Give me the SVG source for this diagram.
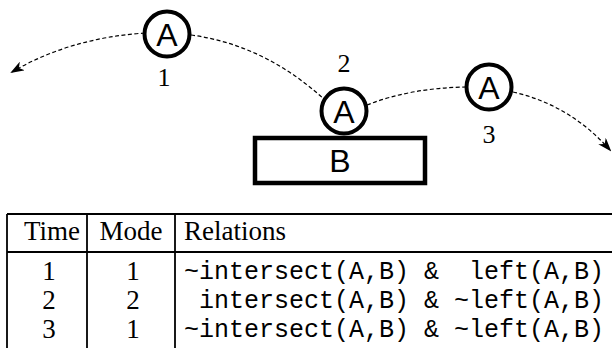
<svg xmlns="http://www.w3.org/2000/svg" width="612" height="348" viewBox="0 0 612 348">
  <style>
    .obj { fill: #fff; stroke: #000; stroke-width: 4; }
    .box { fill: #fff; stroke: #000; stroke-width: 4.5; }
    .sans { font-family: "Liberation Sans", Arial, sans-serif; font-size: 32px; fill: #000; text-anchor: middle; }
    .serif { font-family: "Liberation Serif", "Times New Roman", serif; font-size: 27px; fill: #000; }
    .lbl { font-size: 26px; }
    .mid { text-anchor: middle; }
    .mono { font-family: "Liberation Mono", "Courier New", monospace; font-size: 25px; fill: #000; white-space: pre; }
    .path { fill: none; stroke: #000; stroke-width: 1.2; stroke-dasharray: 4 2.5; }
    .rule { stroke: #000; stroke-width: 2.2; }
    .thin { stroke: #000; stroke-width: 1.8; }
  </style>
  <defs>
    <marker id="head" markerUnits="userSpaceOnUse" markerWidth="14" markerHeight="10" refX="12" refY="5" orient="auto" viewBox="0 0 14 10">
      <path d="M0,0 L14,5 L0,10 L4,5 Z" fill="#000"/>
    </marker>
  </defs>

  <!-- trajectory of A -->
  <g id="connectors">
    <path class="path" d="M145,33 Q70,38 12,72" marker-end="url(#head)"/>
    <path class="path" d="M191,35 Q265,45 325,100"/>
    <path class="path" d="M367,105 Q410,88 466,87"/>
    <path class="path" d="M513,92 Q570,105 610,150" marker-end="url(#head)"/>
  </g>

  <g id="B">
    <rect class="box" x="255" y="138" width="170" height="45"/>
    <text class="sans" x="340" y="172">B</text>
  </g>

  <g id="A1">
    <circle class="obj" cx="167" cy="34" r="22.5"/>
    <text class="sans" x="167" y="45.5">A</text>
    <text class="serif lbl mid" x="164" y="86">1</text>
  </g>

  <g id="A2">
    <circle class="obj" cx="344" cy="111" r="22.5"/>
    <text class="sans" x="344" y="122.5">A</text>
    <text class="serif lbl mid" x="344" y="72">2</text>
  </g>

  <g id="A3">
    <circle class="obj" cx="489" cy="87" r="22.5"/>
    <text class="sans" x="489" y="98.5">A</text>
    <text class="serif lbl mid" x="489" y="143">3</text>
  </g>

  <!-- table of modes and relations -->
  <g id="table">
    <line class="rule" x1="7" y1="214" x2="612" y2="214"/>
    <line class="rule" x1="7" y1="252" x2="612" y2="252"/>
    <line class="thin" x1="7" y1="214" x2="7" y2="348"/>
    <line class="thin" x1="87" y1="214" x2="87" y2="348"/>
    <line class="thin" x1="175" y1="214" x2="175" y2="348"/>

    <text class="serif mid" x="52" y="240">Time</text>
    <text class="serif mid" x="131" y="240">Mode</text>
    <text class="serif" x="184" y="240">Relations</text>

    <text class="serif mid" x="49" y="280">1</text>
    <text class="serif mid" x="133" y="280">1</text>
    <text class="mono" x="184" y="279">~intersect(A,B) &amp;  left(A,B)</text>

    <text class="serif mid" x="49" y="309">2</text>
    <text class="serif mid" x="133" y="309">2</text>
    <text class="mono" x="184" y="308"> intersect(A,B) &amp; ~left(A,B)</text>

    <text class="serif mid" x="49" y="338">3</text>
    <text class="serif mid" x="133" y="338">1</text>
    <text class="mono" x="184" y="337">~intersect(A,B) &amp; ~left(A,B)</text>
  </g>
</svg>
